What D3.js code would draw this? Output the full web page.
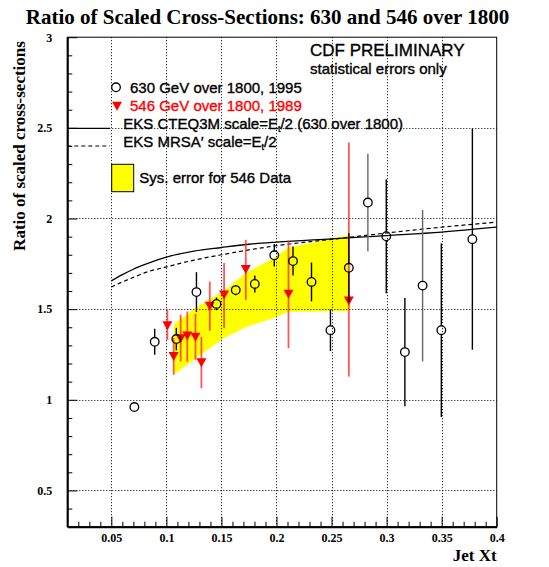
<!DOCTYPE html>
<html><head><meta charset="utf-8">
<script src="https://cdn.jsdelivr.net/npm/d3@7"></script>
<style>body{margin:0;background:#fff} svg{display:block}</style>
</head><body><svg id="c" width="549" height="567"></svg>
<script>
// ---- data ----
const xTickLabels = [0.05, 0.1, 0.15, 0.2, 0.25, 0.3, 0.35, 0.4];
const yTickLabels = [0.5, 1, 1.5, 2, 2.5, 3];

// 630 GeV over 1800, 1995 (open circles)
const circX   = [0.0709,0.0894,0.109,0.1273,0.1455,0.163,0.1803,0.198,0.215,0.2318,0.249,0.2657,0.283,0.2997,0.3166,0.3327,0.3497,0.3779];
const circY   = [0.960,1.320,1.335,1.594,1.529,1.605,1.639,1.797,1.765,1.650,1.384,1.728,2.088,1.902,1.263,1.630,1.384,1.886];
const circErr = [0.0,0.072,0.062,0.11,0.035,0.028,0.047,0.062,0.08,0.107,0.115,0.19,0.269,0.314,0.298,0.418,0.479,0.61];

// 546 GeV over 1800, 1989 (red triangles)
const triX  = [0.1009,0.1066,0.113,0.119,0.1264,0.1318,0.1394,0.1524,0.1721,0.2109,0.2657];
const triY  = [1.41,1.24,1.338,1.353,1.346,1.206,1.518,1.579,1.72,1.584,1.547];
const triLo = [1.33,1.138,1.211,1.211,1.22,1.064,1.380,1.395,1.551,1.285,1.128];
const triHi = [1.497,1.342,1.469,1.487,1.474,1.346,1.652,1.754,1.882,1.873,2.42];

// Systematic error band for 546 data
const bandX  = [0.107,0.13,0.152,0.172,0.197,0.211,0.2667];
const bandLo = [1.14,1.245,1.34,1.40,1.45,1.485,1.49];
const bandHi = [1.42,1.52,1.60,1.70,1.78,1.84,1.91];

// EKS theory curves
const theoryX = [0.05,0.06,0.07,0.08,0.1,0.125,0.15,0.175,0.2,0.25,0.3,0.35,0.4];
const cteqY   = [1.656,1.69,1.72,1.745,1.787,1.82,1.84,1.858,1.87,1.888,1.906,1.925,1.952];
const mrsaY   = [1.622,1.65,1.675,1.70,1.733,1.77,1.80,1.827,1.85,1.885,1.92,1.952,1.98];

// ---- styles ----
const greyBars = new Set([12, 15]);
const SERIF = "'Liberation Serif','Times New Roman',serif";
const SANS = "'Liberation Sans',Arial,Helvetica,sans-serif";

const svg = d3.select("#c");
const L = 67.3, R = 496.7, T = 37.2, B = 526.7;
const x = d3.scaleLinear().domain([0.01, 0.4]).range([L, R]);
const y = d3.scaleLinear().domain([0.3, 3]).range([B, T]);

// title
svg.append("text").attr("x", 267.5).attr("y", 24).attr("text-anchor", "middle")
  .style("font-family", SERIF).style("font-weight", "bold").style("font-size", "21px")
  .text("Ratio of Scaled Cross-Sections: 630 and 546 over 1800");

// y label
svg.append("text").attr("transform", "translate(25,146) rotate(-90)").attr("text-anchor", "middle")
  .style("font-family", SERIF).style("font-weight", "bold").style("font-size", "17px")
  .text("Ratio of scaled cross-sections");

// x label
svg.append("text").attr("x", R).attr("y", 561).attr("text-anchor", "end")
  .style("font-family", SERIF).style("font-weight", "bold").style("font-size", "17px")
  .text("Jet Xt");

// band
const area = d3.area().x((d, i) => x(bandX[i])).y0((d, i) => y(bandLo[i])).y1((d, i) => y(bandHi[i]));
svg.append("path").datum(bandX).attr("d", area).attr("fill", "#ffff00").attr("stroke", "none");

// grid
const grid = svg.append("g").attr("stroke", "#000").attr("stroke-width", 1).attr("stroke-dasharray", "1,2");
xTickLabels.filter(v => v < 0.4).forEach(v => {
  grid.append("line").attr("x1", Math.round(x(v)) + 0.5).attr("x2", Math.round(x(v)) + 0.5).attr("y1", T).attr("y2", B);
});
yTickLabels.filter(v => v < 3).forEach(v => {
  grid.append("line").attr("y1", Math.round(y(v)) + 0.5).attr("y2", Math.round(y(v)) + 0.5).attr("x1", L).attr("x2", R);
});

// theory curves
const line = d3.line().curve(d3.curveMonotoneX);
svg.append("path").attr("d", line(theoryX.map((v, i) => [x(v), y(cteqY[i])])))
  .attr("fill", "none").attr("stroke", "#000").attr("stroke-width", 1.3);
svg.append("path").attr("d", line(theoryX.map((v, i) => [x(v), y(mrsaY[i])])))
  .attr("fill", "none").attr("stroke", "#000").attr("stroke-width", 1.2).attr("stroke-dasharray", "4,3");

// frame
svg.append("rect").attr("x", L).attr("y", T).attr("width", R - L).attr("height", B - T)
  .attr("fill", "none").attr("stroke", "#000").attr("stroke-width", 1);

// axes
function styleAxis(g) {
  g.selectAll("text").style("font-family", SERIF).style("font-weight", "bold").style("font-size", "12px").attr("fill", "#000");
  g.selectAll("line").attr("stroke", "#000").attr("stroke-width", 1);
}
const yMinor = d3.range(4, 30).map(i => i / 10).filter(v => Math.abs(v * 2 - Math.round(v * 2)) > 1e-6);
svg.append("g").attr("transform", `translate(${L},0)`)
  .call(d3.axisLeft(y).tickValues(yMinor).tickSize(-5).tickSizeOuter(0).tickFormat(""))
  .call(g => g.select(".domain").remove()).call(styleAxis);
svg.append("g").attr("transform", `translate(${L},0)`)
  .call(d3.axisLeft(y).tickValues(yTickLabels).tickSize(-10).tickSizeOuter(0).tickPadding(15).tickFormat(d => String(d)))
  .call(g => g.select(".domain").attr("stroke", "#000").attr("stroke-width", 2))
  .call(styleAxis);
const xMinor = d3.range(2, 40).map(i => i / 100).filter(v => Math.abs(v * 20 - Math.round(v * 20)) > 1e-6);
svg.append("g").attr("transform", `translate(0,${B})`)
  .call(d3.axisBottom(x).tickValues(xMinor).tickSize(-5).tickSizeOuter(0).tickFormat(""))
  .call(g => g.select(".domain").remove()).call(styleAxis);
svg.append("g").attr("transform", `translate(0,${B})`)
  .call(d3.axisBottom(x).tickValues(xTickLabels).tickSize(-10).tickSizeOuter(0).tickPadding(6.5).tickFormat(d => String(d)))
  .call(g => g.select(".domain").attr("stroke", "#000").attr("stroke-width", 2))
  .call(styleAxis);

// red error bars + triangles
const tri = (cx, cy) => `M${cx - 5},${cy - 4.2}L${cx + 5},${cy - 4.2}L${cx},${cy + 4.8}Z`;
const tg = svg.append("g");
triX.forEach((v, i) => {
  tg.append("line").attr("x1", x(v)).attr("x2", x(v)).attr("y1", y(triLo[i])).attr("y2", y(triHi[i]))
    .attr("stroke", "#ff2a2a").attr("stroke-opacity", 0.8).attr("stroke-width", 1.8);
});
triX.forEach((v, i) => {
  tg.append("path").attr("d", tri(x(v), y(triY[i]))).attr("fill", "#ff0000");
});

// circles + error bars
const r = 4.3;
const cg = svg.append("g");
circX.forEach((v, i) => {
  const cx = x(v), cy = y(circY[i]);
  const col = greyBars.has(i) ? "#666" : "#000";
  const top = y(circY[i] + circErr[i]), bot = y(circY[i] - circErr[i]);
  if (top < cy - r) cg.append("line").attr("x1", cx).attr("x2", cx).attr("y1", top).attr("y2", cy - r).attr("stroke", col).attr("stroke-width", 1.4);
  if (bot > cy + r) cg.append("line").attr("x1", cx).attr("x2", cx).attr("y1", cy + r).attr("y2", bot).attr("stroke", col).attr("stroke-width", 1.4);
  cg.append("circle").attr("cx", cx).attr("cy", cy).attr("r", r).attr("fill", "none").attr("stroke", "#000").attr("stroke-width", 1.3);
});

// legend / annotations
const txt = (xx, yy, s, size, color) => svg.append("text").attr("x", xx).attr("y", yy)
  .style("font-family", SANS).style("font-size", size + "px").attr("fill", color || "#000")
  .attr("stroke", color || "#000").attr("stroke-width", 0.35).text(s);
txt(310, 56, "CDF PRELIMINARY", 17);
txt(310, 74, "statistical errors only", 15);
svg.append("circle").attr("cx", 116).attr("cy", 87.3).attr("r", r).attr("fill", "none").attr("stroke", "#000").attr("stroke-width", 1.3);
txt(130, 92.7, "630 GeV over 1800, 1995", 15);
svg.append("path").attr("d", tri(117, 106)).attr("fill", "#ff0000");
txt(130, 111, "546 GeV over 1800, 1989", 15, "#ff0000");

svg.append("line").attr("x1", L).attr("x2", 110).attr("y1", 128.3).attr("y2", 128.3).attr("stroke", "#000").attr("stroke-width", 1.3);
const t1 = txt(123.3, 129.3, "EKS CTEQ3M scale=E", 15);
t1.append("tspan").attr("dy", 3).style("font-size", "9px").text("t");
t1.append("tspan").attr("dy", -3).text("/2 (630 over 1800)");

svg.append("line").attr("x1", L).attr("x2", 110).attr("y1", 146).attr("y2", 146).attr("stroke", "#000").attr("stroke-width", 1.2).attr("stroke-dasharray", "4,3");
const t2 = txt(123.3, 146.7, "EKS MRSA", 15);
t2.append("tspan").text("′");
t2.append("tspan").text(" scale=E");
t2.append("tspan").attr("dy", 3).style("font-size", "9px").text("t");
t2.append("tspan").attr("dy", -3).text("/2");

svg.append("rect").attr("x", 111.7).attr("y", 164.3).attr("width", 22).attr("height", 27.4)
  .attr("fill", "#ffff00").attr("stroke", "#000").attr("stroke-width", 1);
txt(139.3, 183.3, "Sys. error for 546 Data", 15);
</script></body></html>
